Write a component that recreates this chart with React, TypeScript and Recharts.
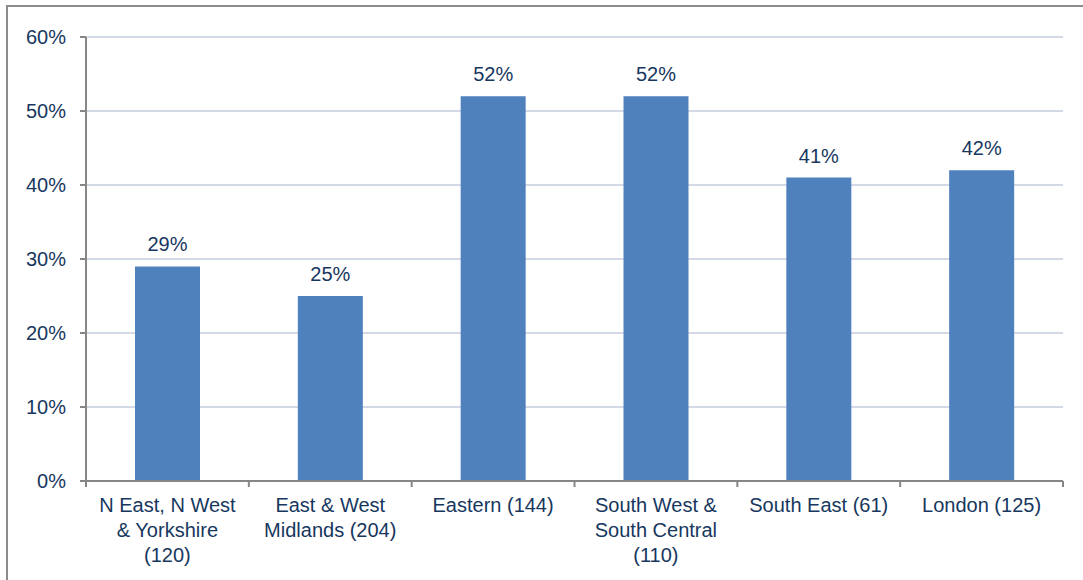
import React from 'react';
import { BarChart, Bar, XAxis, YAxis, CartesianGrid, LabelList } from 'recharts';

const regions = [
  'N East, N West\n& Yorkshire\n(120)',
  'East & West\nMidlands (204)',
  'Eastern (144)',
  'South West &\nSouth Central\n(110)',
  'South East (61)',
  'London (125)',
];
const shares = [29, 25, 52, 52, 41, 42];
const yTicks = [0, 10, 20, 30, 40, 50, 60];

const data = regions.map((region, i) => ({ region, share: shares[i] }));

const W = 1083;
const H = 580;
const margin = { top: 37, right: 20, left: 0, bottom: 4 };
const yAxisWidth = 86;
const halfStep = (W - margin.left - margin.right - yAxisWidth) / regions.length / 2;
const textColor = '#17375E';
const font = '"Liberation Sans", Arial, sans-serif';

const CategoryTick = (props: any) => {
  const { x, y, payload, index } = props;
  const lines = String(payload.value).split('\n');
  return (
    <g>
      <line x1={x - halfStep} y1={y - 8} x2={x - halfStep} y2={y - 2} stroke="#868686" strokeWidth={2} />
      {index === regions.length - 1 && (
        <line x1={x + halfStep} y1={y - 8} x2={x + halfStep} y2={y - 2} stroke="#868686" strokeWidth={2} />
      )}
      <text x={x} y={y} textAnchor="middle" fill={textColor} fontSize={20} fontFamily={font}>
        {lines.map((l, i) => (
          <tspan key={i} x={x} dy={i === 0 ? 23 : 25}>{l}</tspan>
        ))}
      </text>
    </g>
  );
};

const App: React.FC = () => {
  return (
    <div style={{ position: 'absolute', left: 0, top: 0, width: W, height: H, background: '#fff' }}>
      <div style={{ position: 'absolute', left: 6, top: 5, width: W, height: H, borderLeft: '2px solid #8c8c8c', borderTop: '2px solid #8c8c8c' }} />
      <div style={{ position: 'absolute', left: 0, top: 0 }}>
        <BarChart width={W} height={H} data={data} margin={margin} barCategoryGap="30%">
          <CartesianGrid vertical={false} stroke="#C6CEDC" strokeWidth={1.5} />
          <XAxis
            dataKey="region"
            interval={0}
            height={95}
            tickLine={false}
            axisLine={{ stroke: '#868686', strokeWidth: 2 }}
            tick={<CategoryTick />}
          />
          <YAxis
            domain={[0, 60]}
            ticks={yTicks}
            width={yAxisWidth}
            tickFormatter={(v: number) => `${v}%`}
            tickSize={6}
            tickMargin={14}
            tickLine={{ stroke: '#868686', strokeWidth: 2 }}
            axisLine={{ stroke: '#868686', strokeWidth: 2 }}
            tick={{ fill: textColor, fontSize: 20, fontFamily: font }}
          />
          <Bar dataKey="share" fill="#4F81BD" barSize={65} isAnimationActive={false}>
            <LabelList
              dataKey="share"
              position="top"
              offset={15}
              formatter={(v: any) => `${v}%`}
              style={{ fill: textColor, fontSize: 20, fontFamily: font }}
            />
          </Bar>
        </BarChart>
      </div>
    </div>
  );
};

export default App;
